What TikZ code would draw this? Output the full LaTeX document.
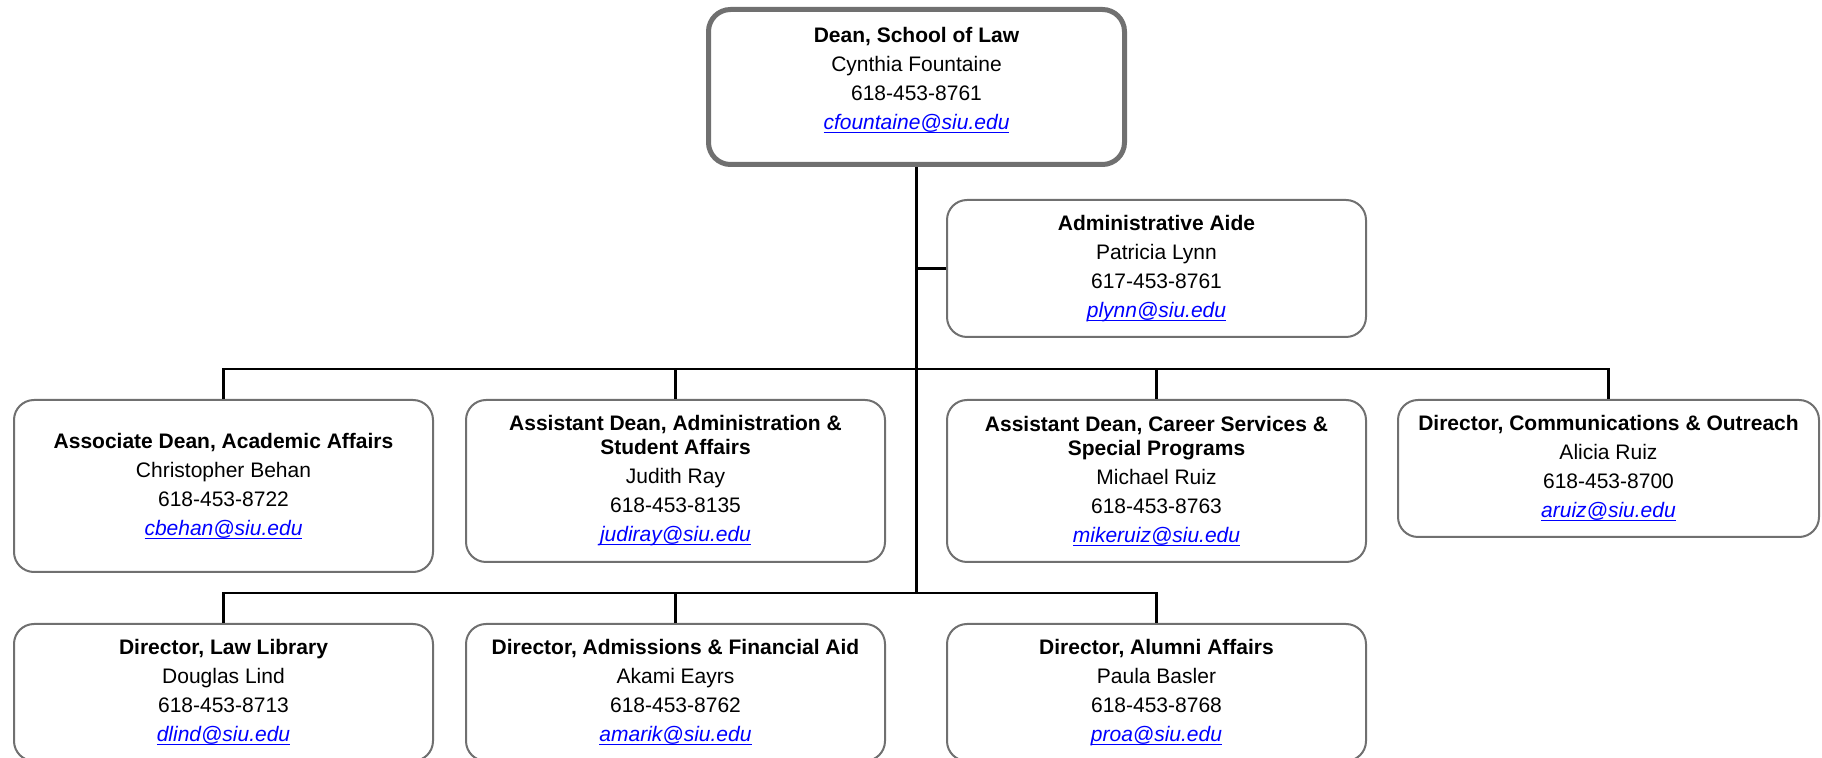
\documentclass[tikz,border=0pt]{standalone}
\usepackage{fontspec}
\setmainfont{Liberation Sans}
\usepackage{tikz}
\usetikzlibrary{positioning}

\definecolor{boxgray}{RGB}{112,112,112}
\definecolor{maillink}{RGB}{0,0,255}
\newcommand{\mail}[1]{{\color{maillink}\itshape\setbox0\hbox{#1}%
  \rlap{\rule[-1.7pt]{\wd0}{0.6pt}}\box0}}

\tikzset{
  unit/.style={draw=boxgray, line width=1pt, rounded corners=10pt, fill=white,
    align=center, inner sep=0pt, minimum width=209.5pt, minimum height=68.5pt,
    font={\fontsize{10.5}{14.5}\selectfont}},
  head/.style={unit, line width=2.5pt, rounded corners=11pt, minimum width=208pt,
    minimum height=77.5pt},
  wire/.style={line width=1.2pt}
}

\begin{document}
\begin{tikzpicture}[x=0.5pt,y=-0.5pt]
          \useasboundingbox (0,0) rectangle (1822,758);
          \clip (0,0) rectangle (1822,758);
          \node[head] (dean) at (916.5,87)
            {\textbf{Dean, School of Law}\\Cynthia Fountaine\\618-453-8761\\\mail{cfountaine@siu.edu}\\[-6pt]};
          \node[unit] (aide) at (1156.5,268.5)
            {\textbf{Administrative Aide}\\Patricia Lynn\\617-453-8761\\\mail{plynn@siu.edu}};
          % second row
          \node[unit, minimum height=86pt] (acad) at (223.5,486)
            {\textbf{Associate Dean, Academic Affairs}\\Christopher Behan\\618-453-8722\\\mail{cbehan@siu.edu}};
          \node[unit, minimum height=81pt] (stud) at (675.5,481)
            {\textbf{Assistant Dean, Administration \&}\\[-2.5pt]\textbf{Student Affairs}\\Judith Ray\\618-453-8135\\\mail{judiray@siu.edu}};
          \node[unit, minimum height=81pt] (career) at (1156.5,481)
            {\textbf{Assistant Dean, Career Services \&}\\[-2.5pt]\textbf{Special Programs}\\Michael Ruiz\\618-453-8763\\\mail{mikeruiz@siu.edu}};
          \node[unit, minimum width=210.5pt] (comm) at (1608.5,468.5)
            {\textbf{Director, Communications \& Outreach}\\Alicia Ruiz\\618-453-8700\\\mail{aruiz@siu.edu}};
          % third row
          \node[unit] (lib) at (223.5,692.5)
            {\textbf{Director, Law Library}\\Douglas Lind\\618-453-8713\\\mail{dlind@siu.edu}};
          \node[unit] (admis) at (675.5,692.5)
            {\textbf{Director, Admissions \& Financial Aid}\\Akami Eayrs\\618-453-8762\\\mail{amarik@siu.edu}};
          \node[unit] (alum) at (1156.5,692.5)
            {\textbf{Director, Alumni Affairs}\\Paula Basler\\618-453-8768\\\mail{proa@siu.edu}};
          % connectors
          \coordinate (b1) at (916.5,369);
          \coordinate (b2) at (916.5,593);
          \draw[wire] (dean.south) -- (b2);
          \draw[wire] (dean.south |- aide.west) -- (aide.west);
          \draw[wire] (acad.north) |- (b1) -| (comm.north);
          \draw[wire] (stud.north) -- (stud.north |- b1);
          \draw[wire] (career.north) -- (career.north |- b1);
          \draw[wire] (lib.north) |- (b2) -| (alum.north);
          \draw[wire] (admis.north) -- (admis.north |- b2);
      \end{tikzpicture}
\end{document}
